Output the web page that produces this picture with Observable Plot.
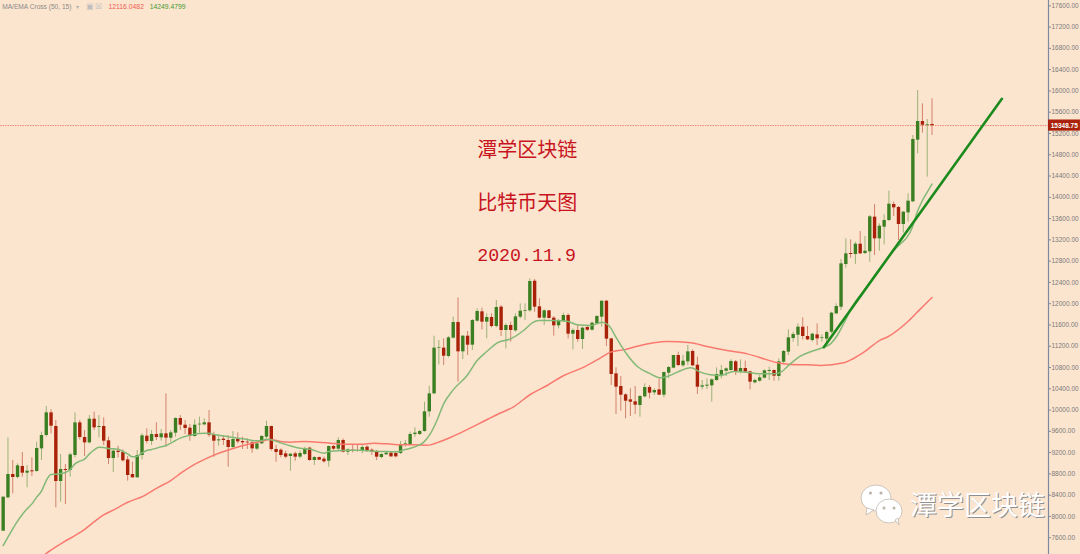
<!DOCTYPE html>
<html><head><meta charset="utf-8">
<style>html,body{margin:0;padding:0;background:#fce5cf;overflow:hidden}
#wrap{position:relative;width:1080px;height:554px}
#logo{position:absolute;left:857px;top:482px}</style>
<script src="https://cdn.jsdelivr.net/npm/d3@7"></script>
<script src="https://cdn.jsdelivr.net/npm/@observablehq/plot@0.6"></script>
</head><body><div id="wrap"></div>
<script>
const direction = ("GGRGRGRGGG"+"RRGRGGRRGR"+"GRRGRRRRGG"+"RGRGRGGRRR"+"GGGRRGRRGR"+"RRRGGGRRRR"+"GRGGRGRRGR"+"GRGRRGRRRG"+"GRRGGGGGGG"+"GGRGGRGRGG"+"RGRGRGRGGG"+"GRRGRRGGRG"+"RGRGGGRRRR"+"RRRGGRGRGG"+"GRGGRRGGGG"+"GGGRGRRGGG"+"GRGGGGGRRG"+"RGGGGGGRGR"+"GGRGGGRRGG"+"GGRGR").split("");
const bodyTop = [
8363,8789,8789,8952,8939,8851,8858,9278,9522,9948,
9948,9691,8883,8883,9158,9760,9760,9484,9829,9829,
9691,9691,9422,9227,9227,9202,9064,8789,9146,9516,
9509,9541,9541,9553,9553,9572,9842,9842,9716,9660,
9716,9735,9760,9760,9534,9440,9453,9428,9447,9453,
9409,9397,9384,9365,9503,9691,9691,9259,9246,9177,
9171,9177,9184,9271,9284,9108,9108,9077,9315,9315,
9428,9428,9252,9246,9240,9296,9303,9246,9221,9165,
9190,9190,9184,9346,9365,9541,9566,9597,9967,10305,
11164,11170,11164,11358,11646,11646,11389,11389,11684,11853,
11847,11740,11740,11928,11935,11590,11590,11753,11859,11872,
12417,12423,11941,11866,11866,11728,11684,11778,11778,11496,
11496,11540,11552,11634,11759,12047,12047,11339,10681,10443,
10286,10192,10155,10255,10424,10424,10368,10380,10706,10800,
11026,11026,10919,11095,11101,10844,10456,10468,10568,10669,
10744,10775,10913,10907,10782,10782,10719,10556,10606,10738,
10744,10744,10907,11101,11358,11421,11559,11558,11383,11427,
11414,11358,11458,11822,11947,12749,12937,12943,13119,13119,
12987,13633,13627,13457,13564,13871,13865,13808,13720,13927,
15087,15425,15425,15369,15369];
const bodyBottom = [
7723,8350,8732,8732,8814,8814,8839,8845,9271,9522,
9697,8657,8657,8864,8864,9146,9484,9384,9384,9666,
9672,9415,9090,9090,9202,9046,8770,8726,8726,9146,
9409,9409,9484,9478,9472,9472,9566,9716,9654,9503,
9503,9722,9722,9528,9415,9422,9428,9296,9296,9403,
9384,9384,9271,9265,9365,9491,9259,9202,9146,9115,
9127,9115,9115,9165,9052,9052,9058,9027,9039,9265,
9265,9209,9209,9221,9227,9221,9227,9215,9115,9108,
9159,9121,9121,9184,9346,9346,9541,9541,9597,9967,
10305,11158,11013,11007,11352,11095,11095,11220,11220,11671,
11653,11653,11571,11571,11496,11496,11496,11490,11747,11859,
11866,11935,11728,11728,11722,11584,11584,11665,11427,11427,
11327,11327,11502,11502,11621,11747,11333,10669,10431,10280,
10167,10149,10092,10086,10249,10318,10324,10280,10280,10694,
10788,10838,10832,10907,10832,10431,10431,10449,10456,10556,
10656,10731,10744,10725,10719,10713,10525,10512,10543,10600,
10725,10637,10631,10901,11089,11346,11408,11383,11320,11308,
11339,11345,11333,11464,11809,11934,12737,12925,12925,12937,
12943,12975,13219,13219,13439,13564,13802,13489,13489,13708,
13915,15074,15356,15356,15349];
const highs = [
8363,9478,9052,8989,9202,8958,9102,9397,9585,10067,
10005,9804,9165,8977,9190,9948,9804,9616,9898,9961,
9898,9854,9491,9252,9321,9252,9127,9021,9240,9553,
9647,9616,9760,9635,10305,9616,9854,9898,9804,9729,
9817,9867,9835,9992,9585,9503,9522,9522,9597,9572,
9491,9459,9415,9397,9522,9791,9697,9334,9271,9227,
9177,9209,9227,9303,9303,9127,9115,9115,9321,9334,
9478,9459,9271,9334,9334,9334,9328,9271,9240,9177,
9209,9209,9209,9409,9428,9585,9666,9616,10149,10449,
11389,11308,11339,11383,11747,12110,11402,11477,11703,11903,
11916,11809,11809,12060,11966,11621,11653,11809,11997,11997,
12467,12455,12091,11885,11872,11759,11703,11822,11809,11527,
11590,11559,11577,11653,11778,12047,12060,11339,10794,10631,
10305,10399,10443,10274,10493,10462,10399,10587,10713,10819,
11026,11089,11026,11214,11132,10995,10556,10587,10587,10794,
10838,10794,10944,10932,10944,10919,10731,10587,10650,10756,
10807,10756,10963,11120,11509,11465,11621,11734,11571,11446,
11621,11414,11483,11840,11997,12831,13219,13200,13157,13357,
13263,13658,13865,13501,13670,14115,13909,13827,13733,14065,
15162,16008,15757,15463,15851];
const lows = [
7723,8331,8425,8707,8739,8538,8751,8833,9052,9491,
9553,8162,8269,8225,8739,9102,9440,9127,9365,9616,
9478,9334,8977,8826,9102,9021,8663,8726,8726,9064,
9365,9334,9428,9415,9303,9397,9491,9616,9541,9415,
9491,9566,9704,9491,9115,9321,9334,8927,9271,9365,
9259,9259,9190,9240,9353,9459,9227,9021,9102,9083,
8851,9039,9083,9146,9039,8958,9052,9002,8927,9240,
9227,9196,9146,9196,9209,9177,9202,9146,9052,9083,
9146,9108,9102,9165,9303,9334,9491,9522,9585,9867,
10293,10850,10838,10982,11339,10525,10951,11026,11120,11653,
11508,11339,11546,11546,11383,11151,11277,11465,11715,11684,
11841,11841,11715,11590,11715,11389,11527,11653,11339,11132,
11277,11139,11477,11483,11602,11559,11195,10462,9917,9979,
9835,9879,9917,9867,10230,10211,10274,10274,10230,10587,
10775,10819,10807,10838,10819,10293,10380,10387,10149,10543,
10587,10631,10731,10650,10681,10694,10380,10493,10525,10587,
10556,10543,10543,10857,11026,11277,11195,11320,11308,11276,
11214,11276,11245,11433,11790,11872,12668,12856,12737,12925,
12925,12780,12906,12987,13106,13545,13639,13188,13326,13533,
13902,14817,15206,14379,15162];
const emaIndex = [0,1,2,3,4,5,6,7,8,9,10,11,12,13,14,15,16,17,18,19,20,21,22,23,24,25,26,27,28,29,30,31,32,33,34,35,36,37,38,39,40,41,42,43,44,45,46,47,48,49,50,51,52,53,54,55,
56,58,60,62,64.2,67,68,70,72,74.6,77.4,80.2,82.3,83.7,85.8,87.85,89.2,90.6,92,94,96.9,99,101,103.2,106,108.7,110.5,111.9,115,117.8,119.9,122.7,125.1,126.5,128.2,130.3,132.4,134.9,137.3,138.7,140.8,143.6,145.6,147.7,149.8,152.6,155.4,158.2,161,162.4,164.4,166.5,169,171.4,172.8,174.2,175.6,177.7,179.8,182.5,184.6,186,187.4,188.8,189.9,190.9,192,193,194];
const emaValue = [7454,7611,7767,7911,8037,8143,8237,8363,8475,8676,8789,8795,8808,8826,8883,8989,9039,9077,9177,9252,9303,9296,9278,9271,9265,9221,9177,9121,9133,9196,9240,9259,9284,9309,9334,9378,9428,9472,9503,9528,9547,9560,9566,9566,9541,9528,9516,9497,9484,9472,9459,9447,9428,9422,9428,9453,
9440,9384,9328,9284,9265,9190,9221,9234,9246,9246,9227,9221,9215,9252,9303,9397,9553,9804,10117,10380,10650,10932,11101,11264,11339,11496,11640,11684,11684,11671,11602,11590,11653,11590,11339,11045,10825,10694,10606,10631,10713,10794,10713,10662,10650,10725,10713,10681,10681,10713,10869,11013,11110,11182,11245,11402,11634,11997,12248,12592,12843,13000,13125,13250,13439,13720,13940,14097,14249];
const maIndex = [8.7,10.6,12.7,14.9,16.8,18.9,21,23.1,25.9,29.4,32.2,35,37.4,39.8,42.6,45.4,48.2,51,53.7,55.8,57.9,60,62.8,65.6,68.4,71.1,74.6,77.4,80.2,83,85.8,88.5,91.3,93.4,95.5,100.7,103.2,106.7,110.1,113.6,117.1,121.3,124.8,126.9,129.6,133.1,135.9,138.7,143.6,147,151.2,155.4,159.6,161.7,164.4,168,170.7,175.6,177.6,179.7,183.3,184.6,189.2,191.6,194];
const maValue = [7285,7404,7523,7636,7742,7893,8030,8124,8262,8388,8538,8676,8833,8970,9096,9202,9284,9353,9409,9447,9409,9397,9409,9397,9378,9359,9359,9378,9365,9346,9346,9340,9409,9484,9572,9804,9917,10067,10293,10462,10650,10807,10982,11090,11132,11214,11264,11289,11264,11195,11120,11057,10944,10888,10857,10850,10840,10888,10970,11084,11320,11370,11684,11903,12116];
const trendIndex = [171.4,208.6];
const trendValue = [11182,15851];
const lastPrice = 15348.75;
const priceTicks = [7600,8000,8400,8800,9200,9600,10000,10400,10800,11200,11600,12000,12400,12800,13200,13600,14000,14400,14800,15200,15600,16000,16400,16800,17200,17600];
const titleLines = [["潭学区块链",14880],["比特币天图",13883]];
const dateLine = "2020.11.9";
const watermark = "潭学区块链";
const legendName = "MA/EMA Cross (50, 15)";
const legendMA = "12116.0482", legendEMA = "14249.4799";

const GREEN="#3b7f22", RED="#a82108";
const candles = direction.map((d,i)=>({i,d,top:bodyTop[i],bottom:bodyBottom[i],hi:highs[i],lo:lows[i]}));
const ema = emaIndex.map((x,k)=>({x,y:emaValue[k]}));
const ma = maIndex.map((x,k)=>({x,y:maValue[k]}));
const trend = trendIndex.map((x,k)=>({x,y:trendValue[k]}));
const AX = 218.33, AXR = 225;
const colour = d => d.d==="G"?GREEN:RED;

const chart = Plot.plot({
  width:1080,height:554,
  marginLeft:0,marginRight:32,marginTop:0,marginBottom:0,
  style:{background:"transparent",fontFamily:"'Liberation Sans',sans-serif"},
  x:{type:"linear",domain:[-0.5576,AX],axis:null},
  y:{type:"linear",domain:[7285,17700],ticks:priceTicks,axis:null},
  marks:[
    Plot.ruleY([lastPrice],{x1:-0.5576,x2:AX,stroke:"#e4483a",strokeWidth:1,strokeDasharray:"1.5 1",strokeOpacity:.6}),
    Plot.ruleX(candles,{x:"i",y1:"lo",y2:"hi",stroke:colour,strokeWidth:1,strokeOpacity:.5}),
    Plot.ruleX(candles,{x:"i",y1:"bottom",y2:"top",stroke:colour,strokeWidth:3.4}),
    Plot.line(ma,{x:"x",y:"y",stroke:"#f9796f",strokeWidth:1.5,curve:"monotone-x",clip:true}),
    Plot.line(ema,{x:"x",y:"y",stroke:"#83b976",strokeWidth:1.5,curve:"monotone-x"}),
    Plot.line(trend,{x:"x",y:"y",stroke:"#1c8a1c",strokeWidth:2.6}),
    Plot.ruleX([AX],{stroke:"#7d8ba0",strokeWidth:1.2}),
    Plot.axisY(priceTicks,{anchor:"right",tickSize:2,tickPadding:1,fontSize:6.5,fill:"#7a7a7a",stroke:"#7d8ba0",label:null,tickFormat:d=>d.toFixed(2)}),
    Plot.rectY([lastPrice],{x1:AX,x2:AXR,y1:d=>d-105,y2:d=>d+105,fill:RED}),
    Plot.text([lastPrice],{x:AX+3.3,y:d=>d,text:d=>d.toFixed(2),fill:"#fff",fontSize:6.5,fontWeight:"bold"}),
    Plot.text(titleLines,{x:99,y:d=>d[1],text:d=>d[0],textAnchor:"start",fill:"#c8141e",fontSize:20,fontFamily:"'Noto Sans CJK SC'"}),
    Plot.text([dateLine],{x:99,y:12905,text:d=>d,textAnchor:"start",fill:"#c8141e",fontSize:18.3,fontFamily:"'Liberation Mono'"}),
    Plot.text([watermark],{x:189.4,y:8190,dx:1,dy:1,text:d=>d,textAnchor:"start",fill:"#8f8f8f",fontSize:27,fontFamily:"'Noto Sans CJK SC'"}),
    Plot.text([watermark],{x:189.4,y:8190,text:d=>d,textAnchor:"start",fill:"#ffffff",fontSize:27,fontFamily:"'Noto Sans CJK SC'"}),
    Plot.text([legendName],{x:-0.2,y:17581,text:d=>d,textAnchor:"start",fill:"#8a8a8a",fontSize:6.6}),
    Plot.text(["▾"],{x:15.2,y:17581,text:d=>d,textAnchor:"start",fill:"#b0b0b0",fontSize:6}),
    Plot.text(["▣","☒"],{x:(d,i)=>17.2+i*1.95,y:17581,text:d=>d,textAnchor:"start",fill:"#bdbdbd",fontSize:8}),
    Plot.text([legendMA],{x:22,y:17581,text:d=>d,textAnchor:"start",fill:"#f05a50",fontSize:6.8}),
    Plot.text([legendEMA],{x:30.6,y:17581,text:d=>d,textAnchor:"start",fill:"#3e9a34",fontSize:6.8})
  ]
});
const wrap=document.getElementById("wrap");
wrap.appendChild(chart);
const logo=document.createElement("div");
logo.id="logo";
logo.innerHTML=`<svg width="50" height="44" viewBox="0 0 50 44">
<g fill="#fff" stroke="#b8b0a8" stroke-width=".7">
<ellipse cx="19" cy="16" rx="15" ry="13"/><path d="M10 26 L9 33 L17 28z"/>
<ellipse cx="32" cy="29" rx="13" ry="12"/><path d="M38 38 L42 43 L41 36z"/></g>
<g fill="#bdb5ac"><circle cx="13.5" cy="11" r="1.6"/><circle cx="24" cy="11" r="1.6"/><circle cx="27" cy="26" r="1.5"/><circle cx="37" cy="26" r="1.5"/></g></svg>`;
wrap.appendChild(logo);
</script></body></html>
